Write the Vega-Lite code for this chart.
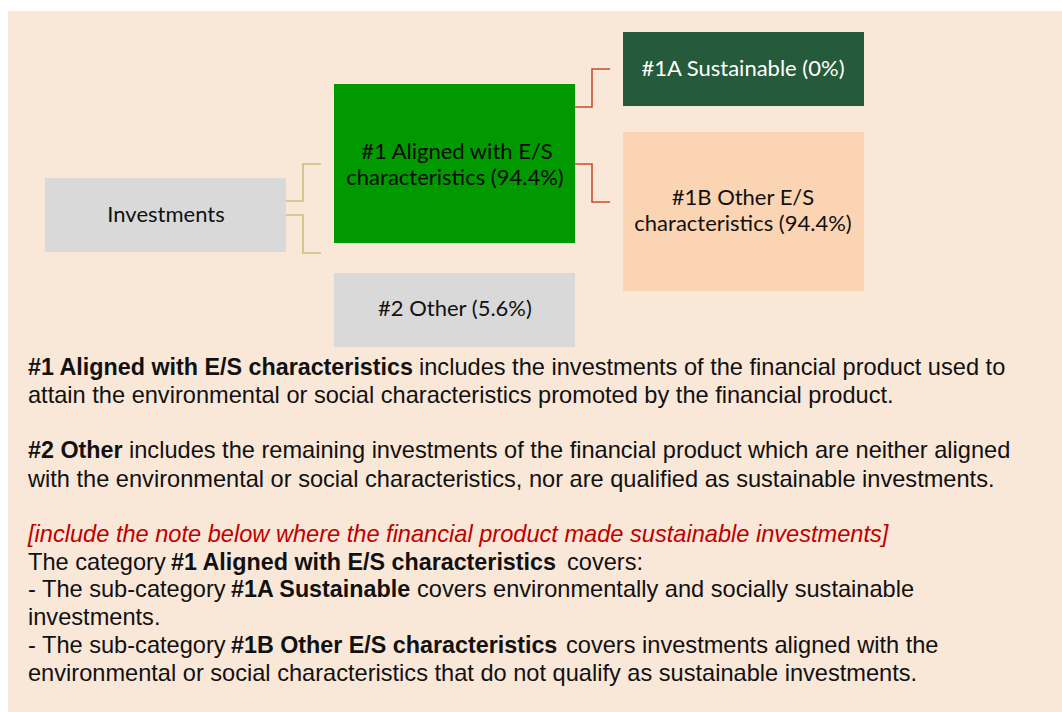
{
  "$schema": "https://vega.github.io/schema/vega-lite/v6.json",
  "width": 1062,
  "height": 712,
  "padding": 0,
  "autosize": {"type": "none"},
  "background": "white",
  "config": {"view": {"stroke": null}},
  "datasets": {
    "boxes": [
      {"name": "panel", "x0": 8, "x1": 1062, "y0": 11, "y1": 712},
      {"name": "Investments", "x0": 45, "x1": 286, "y0": 178, "y1": 252},
      {"name": "#1 Aligned", "x0": 334, "x1": 575, "y0": 84, "y1": 243},
      {"name": "#2 Other", "x0": 334, "x1": 575, "y0": 273, "y1": 347},
      {"name": "#1A Sustainable", "x0": 623, "x1": 864, "y0": 32, "y1": 106},
      {"name": "#1B Other E/S", "x0": 623, "x1": 864, "y0": 132, "y1": 291}
    ],
    "links": [
      {"link": "inv-1", "step": 1, "x": 286, "y": 201},
      {"link": "inv-1", "step": 2, "x": 303, "y": 201},
      {"link": "inv-1", "step": 3, "x": 303, "y": 164},
      {"link": "inv-1", "step": 4, "x": 321, "y": 164},
      {"link": "inv-2", "step": 1, "x": 286, "y": 215},
      {"link": "inv-2", "step": 2, "x": 303, "y": 215},
      {"link": "inv-2", "step": 3, "x": 303, "y": 253},
      {"link": "inv-2", "step": 4, "x": 321, "y": 253},
      {"link": "al-1a", "step": 1, "x": 575, "y": 107},
      {"link": "al-1a", "step": 2, "x": 592, "y": 107},
      {"link": "al-1a", "step": 3, "x": 592, "y": 69},
      {"link": "al-1a", "step": 4, "x": 610, "y": 69},
      {"link": "al-1b", "step": 1, "x": 575, "y": 164},
      {"link": "al-1b", "step": 2, "x": 592, "y": 164},
      {"link": "al-1b", "step": 3, "x": 592, "y": 202},
      {"link": "al-1b", "step": 4, "x": 610, "y": 202}
    ],
    "labels": [
      {"box": "Investments", "text": "Investments", "x": 166, "y": 215},
      {"box": "#1 Aligned", "text": "#1 Aligned with E/S", "x": 457, "y": 152},
      {"box": "#1 Aligned", "text": "characteristics (94.4%)", "x": 455, "y": 178},
      {"box": "#2 Other", "text": "#2 Other (5.6%)", "x": 455, "y": 309},
      {"box": "#1A Sustainable", "text": "#1A Sustainable (0%)", "x": 743, "y": 69},
      {"box": "#1B Other E/S", "text": "#1B Other E/S", "x": 743, "y": 198},
      {"box": "#1B Other E/S", "text": "characteristics (94.4%)", "x": 743, "y": 224}
    ],
    "runs": [
      {"kind": "bold", "x": 28, "y": 375, "text": "#1 Aligned with E/S characteristics"},
      {"kind": "plain", "x": 419, "y": 375, "text": "includes the investments of the financial product used to"},
      {"kind": "plain", "x": 28, "y": 403, "text": "attain the environmental or social characteristics promoted by the financial product."},
      {"kind": "bold", "x": 28, "y": 458, "text": "#2 Other"},
      {"kind": "plain", "x": 129, "y": 458, "text": "includes the remaining investments of the financial product which are neither aligned"},
      {"kind": "plain", "x": 28, "y": 487, "text": "with the environmental or social characteristics, nor are qualified as sustainable investments."},
      {"kind": "note", "x": 28, "y": 542, "text": "[include the note below where the financial product made sustainable investments]"},
      {"kind": "plain", "x": 28, "y": 570, "text": "The category"},
      {"kind": "bold", "x": 171, "y": 570, "text": "#1 Aligned with E/S characteristics"},
      {"kind": "plain", "x": 567, "y": 570, "text": "covers:"},
      {"kind": "plain", "x": 28, "y": 597, "text": "- The sub-category"},
      {"kind": "bold", "x": 231, "y": 597, "text": "#1A Sustainable"},
      {"kind": "plain", "x": 417, "y": 597, "text": "covers environmentally and socially sustainable"},
      {"kind": "plain", "x": 28, "y": 625, "text": "investments."},
      {"kind": "plain", "x": 28, "y": 653, "text": "- The sub-category"},
      {"kind": "bold", "x": 231, "y": 653, "text": "#1B Other E/S characteristics"},
      {"kind": "plain", "x": 566, "y": 653, "text": "covers investments aligned with the"},
      {"kind": "plain", "x": 28, "y": 681, "text": "environmental or social characteristics that do not qualify as sustainable investments."}
    ]
  },
  "layer": [
    {
      "data": {"name": "boxes"},
      "transform": [{"filter": "datum.name === '#1A Sustainable' || datum.name === '#1B Other E/S'"}],
      "mark": {"type": "rect", "color": "#5e554b", "opacity": 0.25, "xOffset": 5, "yOffset": 5, "x2Offset": 5, "y2Offset": 5},
      "encoding": {
        "x": {"field": "x0", "type": "quantitative", "scale": {"domain": [0, 1062], "nice": false, "zero": false}, "axis": null},
        "x2": {"field": "x1"},
        "y": {"field": "y0", "type": "quantitative", "scale": {"domain": [0, 712], "nice": false, "zero": false, "reverse": true}, "axis": null},
        "y2": {"field": "y1"}
      }
    },
    {
      "data": {"name": "boxes"},
      "transform": [{"filter": "datum.name === '#1A Sustainable' || datum.name === '#1B Other E/S'"}],
      "mark": {"type": "rect", "color": "#5e554b", "opacity": 0.35, "xOffset": 2, "yOffset": 3, "x2Offset": 2, "y2Offset": 3},
      "encoding": {
        "x": {"field": "x0", "type": "quantitative", "scale": {"domain": [0, 1062], "nice": false, "zero": false}, "axis": null},
        "x2": {"field": "x1"},
        "y": {"field": "y0", "type": "quantitative", "scale": {"domain": [0, 712], "nice": false, "zero": false, "reverse": true}, "axis": null},
        "y2": {"field": "y1"}
      }
    },
    {
      "data": {"name": "boxes"},
      "mark": {"type": "rect"},
      "encoding": {
        "x": {"field": "x0", "type": "quantitative", "scale": {"domain": [0, 1062], "nice": false, "zero": false}, "axis": null},
        "x2": {"field": "x1"},
        "y": {"field": "y0", "type": "quantitative", "scale": {"domain": [0, 712], "nice": false, "zero": false, "reverse": true}, "axis": null},
        "y2": {"field": "y1"},
        "color": {
          "field": "name", "type": "nominal", "legend": null,
          "scale": {
            "domain": ["panel", "Investments", "#1 Aligned", "#2 Other", "#1A Sustainable", "#1B Other E/S"],
            "range": ["#F9E7D8", "#D9D9D9", "#009900", "#D9D9D9", "#255B3B", "#FBD4B4"]
          }
        }
      }
    },
    {
      "data": {"name": "links"},
      "mark": {"type": "line", "strokeWidth": 1.6, "interpolate": "linear"},
      "encoding": {
        "x": {"field": "x", "type": "quantitative", "scale": {"domain": [0, 1062], "nice": false, "zero": false}, "axis": null},
        "y": {"field": "y", "type": "quantitative", "scale": {"domain": [0, 712], "nice": false, "zero": false, "reverse": true}, "axis": null},
        "detail": {"field": "link", "type": "nominal"},
        "order": {"field": "step", "type": "quantitative"},
        "color": {
          "field": "link", "type": "nominal", "legend": null,
          "scale": {"domain": ["inv-1", "inv-2", "al-1a", "al-1b"], "range": ["#CBBE7E", "#CBBE7E", "#C84E2C", "#C84E2C"]}
        }
      }
    },
    {
      "data": {"name": "labels"},
      "mark": {"type": "text", "font": "Lato", "fontSize": 22, "align": "center", "baseline": "middle"},
      "encoding": {
        "x": {"field": "x", "type": "quantitative", "scale": {"domain": [0, 1062], "nice": false, "zero": false}, "axis": null},
        "y": {"field": "y", "type": "quantitative", "scale": {"domain": [0, 712], "nice": false, "zero": false, "reverse": true}, "axis": null},
        "text": {"field": "text", "type": "nominal"},
        "color": {
          "field": "box", "type": "nominal", "legend": null,
          "scale": {"domain": ["Investments", "#1 Aligned", "#2 Other", "#1A Sustainable", "#1B Other E/S"], "range": ["#111111", "#0a0a0a", "#111111", "#FFFFFF", "#111111"]}
        }
      }
    },
    {
      "data": {"name": "runs"},
      "transform": [{"filter": "datum.kind === 'plain'"}],
      "mark": {"type": "text", "font": "Liberation Sans", "fontSize": 23.6, "align": "left", "baseline": "alphabetic", "color": "#111111"},
      "encoding": {
        "x": {"field": "x", "type": "quantitative", "scale": {"domain": [0, 1062], "nice": false, "zero": false}, "axis": null},
        "y": {"field": "y", "type": "quantitative", "scale": {"domain": [0, 712], "nice": false, "zero": false, "reverse": true}, "axis": null},
        "text": {"field": "text", "type": "nominal"}
      }
    },
    {
      "data": {"name": "runs"},
      "transform": [{"filter": "datum.kind === 'bold'"}],
      "mark": {"type": "text", "font": "Liberation Sans", "fontSize": 23.3, "fontWeight": "bold", "align": "left", "baseline": "alphabetic", "color": "#111111"},
      "encoding": {
        "x": {"field": "x", "type": "quantitative", "scale": {"domain": [0, 1062], "nice": false, "zero": false}, "axis": null},
        "y": {"field": "y", "type": "quantitative", "scale": {"domain": [0, 712], "nice": false, "zero": false, "reverse": true}, "axis": null},
        "text": {"field": "text", "type": "nominal"}
      }
    },
    {
      "data": {"name": "runs"},
      "transform": [{"filter": "datum.kind === 'note'"}],
      "mark": {"type": "text", "font": "Liberation Sans", "fontSize": 23.6, "fontStyle": "italic", "align": "left", "baseline": "alphabetic", "color": "#C00000"},
      "encoding": {
        "x": {"field": "x", "type": "quantitative", "scale": {"domain": [0, 1062], "nice": false, "zero": false}, "axis": null},
        "y": {"field": "y", "type": "quantitative", "scale": {"domain": [0, 712], "nice": false, "zero": false, "reverse": true}, "axis": null},
        "text": {"field": "text", "type": "nominal"}
      }
    }
  ],
  "resolve": {"scale": {"color": "independent"}}
}
